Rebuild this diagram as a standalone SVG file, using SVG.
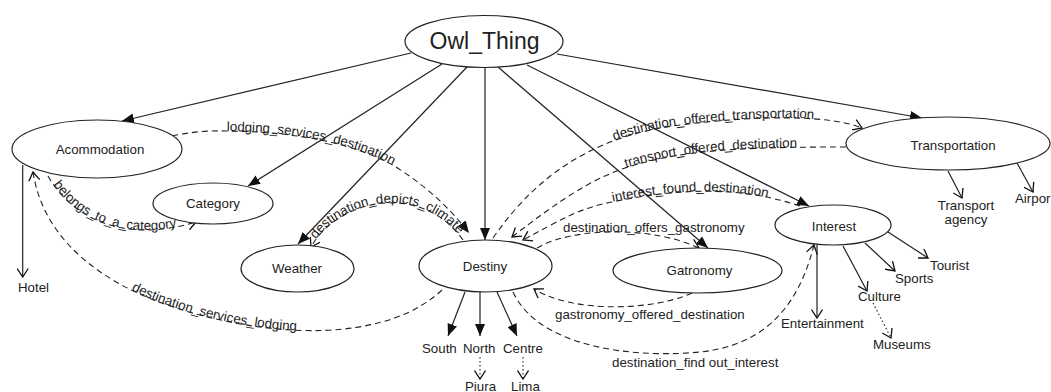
<svg xmlns="http://www.w3.org/2000/svg" width="1051" height="392" viewBox="0 0 1051 392">
<defs>
<style>
.n{fill:#fff;stroke:#222;stroke-width:1.2}
.t{font-family:"Liberation Sans",Arial,sans-serif;font-size:13.3px;fill:#222}
.tc{text-anchor:middle}
.big{font-size:23px}
.s{fill:none;stroke:#222;stroke-width:1.2}
.sf{fill:none;stroke:#222;stroke-width:1.2;marker-end:url(#fa)}
.so{fill:none;stroke:#222;stroke-width:1.2;marker-end:url(#oa)}
.d{fill:none;stroke:#222;stroke-width:1.1;stroke-dasharray:6,4}
.dt{fill:none;stroke:#222;stroke-width:1.1;stroke-dasharray:1.5,2.5;marker-end:url(#oa)}
</style>
<marker id="fa" viewBox="0 0 12 10" refX="12" refY="5" markerWidth="12" markerHeight="10" orient="auto" markerUnits="userSpaceOnUse"><path d="M0,0 L12,5 L0,10 z" fill="#111"/></marker>
<marker id="oa" viewBox="0 0 10 12" refX="9" refY="6" markerWidth="10" markerHeight="12" orient="auto" markerUnits="userSpaceOnUse"><path d="M0.5,0.5 L9,6 L0.5,11.5" fill="none" stroke="#111" stroke-width="1.3"/></marker>
<path id="pB" d="M311,247 C 337,200 420,180 463,240"/>
<path id="pD" d="M33,172 C 45,250 120,300 230,322 C 320,340 400,330 442,290"/>
<path id="pF" d="M512,237 C 560,200 590,180 625,168 C 680,150 740,147 846,147"/>
<path id="pG" d="M523,240 C 560,220 580,208 612,202 C 680,188 740,186 800,206"/>
</defs>
<rect width="1051" height="392" fill="#fff"/>
<g id="connectors">
<path class="sf" d="M411,53 L122,121"/>
<path class="sf" d="M442,64 L248,186"/>
<path class="sf" d="M467,67 L298,244"/>
<path class="sf" d="M485,68 L485,240"/>
<path class="sf" d="M498,67 L708,248"/>
<path class="sf" d="M527,65 L809,206"/>
<path class="sf" d="M557,54 L922,118"/>
<path class="so" d="M22.7,165 L22.7,277"/>
<path class="so" d="M948,171 L962,198"/>
<path class="so" d="M1017,163 L1033,192"/>
<path class="sf" d="M465,292 L448,336"/>
<path class="sf" d="M480,292 L480,336"/>
<path class="sf" d="M497,292 L517,336"/>
<path class="dt" d="M480,357 L480,379"/>
<path class="dt" d="M523,357 L523,379"/>
<path class="so" d="M817,245 L817,318"/>
<path class="so" d="M843,246 L867,291"/>
<path class="so" d="M865,243 L895,271"/>
<path class="so" d="M888,232 L928,258"/>
<path class="dt" d="M873,303 L891,338"/>
<path id="cA" class="d" style="marker-end:url(#fa)" d="M172,136 Q 200,130 226,131 Q 335,132 396,167 Q 440,195 469,233"/>
<path class="d" style="marker-end:url(#oa)" d="M463,240 C 420,180 337,200 311,247"/>
<path id="cC" class="d" style="marker-end:url(#oa)" d="M48,176 C 70,215 120,245 196,222"/>
<path class="d" style="marker-end:url(#oa)" d="M442,290 C 400,330 320,340 230,322 C 120,300 45,250 33,172"/>
<path id="cE" class="d" style="marker-end:url(#oa)" d="M493,238 C 540,170 600,135 680,125 C 760,115 830,115 862,128"/>
<path class="d" style="marker-end:url(#oa)" d="M846,147 C 740,147 680,150 625,168 C 590,180 560,200 512,237"/>
<path class="d" style="marker-end:url(#oa)" d="M800,206 C 740,186 680,188 612,202 C 580,208 560,220 523,240"/>
<path class="d" style="marker-end:url(#oa)" d="M537,248 C 570,228 650,225 699,248"/>
<path class="d" style="marker-end:url(#oa)" d="M692,293 C 650,312 570,312 534,289"/>
<path class="d" style="marker-end:url(#oa)" d="M513,292 C 540,350 640,358 700,352 C 770,345 800,300 814,245"/>
<text class="t"><textPath href="#cA" startOffset="55">lodging_services_destination</textPath></text>
<text class="t"><textPath href="#pB" startOffset="9">destination_depicts_climate</textPath></text>
<text class="t"><textPath href="#cC" startOffset="10">belongs_to_a_category</textPath></text>
<text class="t"><textPath href="#pD" startOffset="160">destination_services_lodging</textPath></text>
<text class="t"><textPath href="#cE" startOffset="158">destination_offered_transportation</textPath></text>
<text class="t"><textPath href="#pF" startOffset="134">transport_offered_destination</textPath></text>
<text class="t"><textPath href="#pG" startOffset="98">interest_found_destination</textPath></text>
<text class="t" x="563" y="232">destination_offers_gastronomy</text>
<text class="t" x="555" y="319">gastronomy_offered_destination</text>
<text class="t" x="612" y="367">destination_find out_interest</text>
</g>
<g id="owl_thing"><ellipse class="n" cx="484" cy="41.5" rx="79" ry="26"/><text class="t tc big" x="484.5" y="49">Owl_Thing</text></g>
<g id="acommodation"><ellipse class="n" cx="97" cy="149" rx="85" ry="29"/><text class="t tc" x="100" y="154">Acommodation</text></g>
<g id="category"><ellipse class="n" cx="213" cy="203.5" rx="60" ry="20.5"/><text class="t tc" x="213" y="208">Category</text></g>
<g id="weather"><ellipse class="n" cx="297.5" cy="268.5" rx="56.5" ry="23.5"/><text class="t tc" x="297" y="273">Weather</text></g>
<g id="destiny"><ellipse class="n" cx="485.5" cy="266" rx="66.5" ry="26"/><text class="t tc" x="485" y="270.5">Destiny</text></g>
<g id="gatronomy"><ellipse class="n" cx="697.5" cy="270.5" rx="84.5" ry="22.5"/><text class="t tc" x="699.5" y="275">Gatronomy</text></g>
<g id="interest"><ellipse class="n" cx="833" cy="225" rx="58" ry="20"/><text class="t tc" x="834" y="230.5">Interest</text></g>
<g id="transportation"><ellipse class="n" cx="948" cy="143.5" rx="102" ry="26.5"/><text class="t tc" x="953" y="149.5">Transportation</text></g>
<g id="hotel"><text class="t" x="18" y="292">Hotel</text></g>
<g id="transport_agency"><text class="t tc" x="966" y="210">Transport</text><text class="t tc" x="966" y="224">agency</text></g>
<g id="airpor"><text class="t" x="1015" y="203">Airpor</text></g>
<g id="south"><text class="t" x="422" y="353">South</text></g>
<g id="north"><text class="t" x="463" y="353">North</text></g>
<g id="centre"><text class="t" x="503" y="353">Centre</text></g>
<g id="piura"><text class="t" x="465" y="391">Piura</text></g>
<g id="lima"><text class="t" x="511" y="391">Lima</text></g>
<g id="tourist"><text class="t" x="930" y="270">Tourist</text></g>
<g id="sports"><text class="t" x="895" y="283">Sports</text></g>
<g id="culture"><text class="t" x="858" y="301">Culture</text></g>
<g id="entertainment"><text class="t" x="781" y="328">Entertainment</text></g>
<g id="museums"><text class="t" x="873" y="349">Museums</text></g>
</svg>
